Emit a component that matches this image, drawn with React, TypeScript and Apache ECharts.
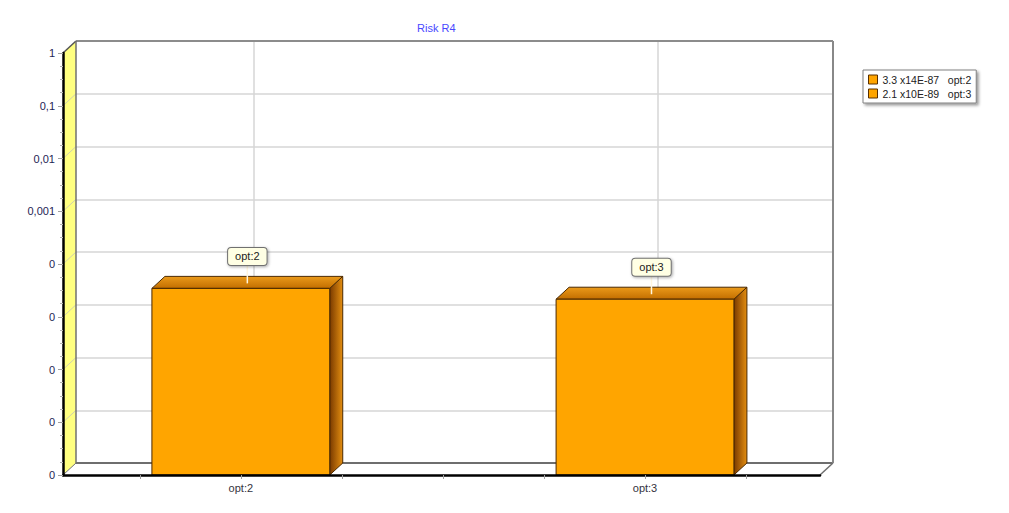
import React, { useEffect, useRef } from "react";
import * as echarts from "echarts";

// ---- data ----
const categories = ["opt:2", "opt:3"];
const values = [3.45e-5, 2.15e-5];
const legendNames = ["3.3 x14E-87   opt:2", "2.1 x10E-89   opt:3"];
const yExponents = [-8, -7, -6, -5, -4, -3, -2, -1, 0];
const yTickLabels = ["0", "0", "0", "0", "0", "0,001", "0,01", "0,1", "1"];
const xTickValues = [-0.25, 0, 0.25, 0.5, 0.75, 1, 1.25];
const categoryPositions = [0, 1];
const chartTitle = "Risk R4";

// ---- layout ----
const W = 1009;
const H = 513;
const FL = 63, FT = 53, FR = 820, FB = 475; // front plane
const DX = 13, DY = 12; // depth offset
const X_MIN = -0.44, X_MAX = 1.433;
const BAR_W = 0.44;
const FONT = '"Liberation Sans", Arial, sans-serif';

const Y_MIN = yExponents[0];
const Y_MAX = yExponents[yExponents.length - 1];

function yLabel(v: number): string {
  const i = yExponents.indexOf(Math.round(v));
  return i >= 0 ? yTickLabels[i] : "";
}

function xLabel(v: number): string {
  const i = categoryPositions.findIndex((p) => Math.abs(p - v) < 1e-6);
  return i >= 0 ? categories[i] : "";
}

export default function App() {
  const ref = useRef<HTMLDivElement>(null);
  useEffect(() => {
    document.body.style.margin = "0";
    const chart = echarts.init(ref.current!, null, { renderer: "svg" });

    const frameSeries: any = {
      type: "custom",
      coordinateSystem: "cartesian2d",
      xAxisIndex: 0,
      yAxisIndex: 0,
      z: 1,
      silent: true,
      data: [[0, 0]],
      renderItem: (params: any, api: any) => {
        const [x0, y0] = api.coord([X_MIN, Y_MIN]);
        const [x1, y1] = api.coord([X_MAX, Y_MAX]);
        const ch: any[] = [];
        ch.push({
          type: "polygon",
          shape: { points: [[x0, y1], [x0 + DX, y1 - DY], [x0 + DX, y0 - DY], [x0, y0]] },
          style: { fill: "#ffff80", stroke: "none" },
        });
        yExponents.forEach((e) => {
          if (e === Y_MIN || e === Y_MAX) return;
          const y = api.coord([X_MIN, e])[1];
          ch.push({
            type: "line",
            shape: { x1: x0, y1: y, x2: x0 + DX, y2: y - DY },
            style: { stroke: "#cfcfb0", lineWidth: 1 },
          });
        });
        ch.push({
          type: "polygon",
          shape: { points: [[x0, y0], [x0 + DX, y0 - DY], [x1 + DX, y0 - DY], [x1, y0]] },
          style: { fill: "#ffffff", stroke: "none" },
        });
        const lines: [number, number, number, number, string, number][] = [
          [x0 + DX, y0 - DY, x1 + DX, y0 - DY, "#6e6e6e", 2],
          [x1 + DX, y1 - DY, x1 + DX, y0 - DY, "#888888", 2],
          [x0 + DX, y1 - DY, x1 + DX, y1 - DY, "#8c8c8c", 2],
          [x1 + DX, y0 - DY, x1, y0, "#6e6e6e", 1.5],
          [x0, y1, x0 + DX, y1 - DY, "#555555", 1.5],
          [x0 + DX, y1 - DY, x0 + DX, y0 - DY, "#707070", 1.5],
          [x0, y0, x0 + DX, y0 - DY, "#707070", 1],
        ];
        lines.forEach(([a, b, c, d, s, w]) =>
          ch.push({ type: "line", shape: { x1: a, y1: b, x2: c, y2: d }, style: { stroke: s, lineWidth: w } })
        );
        return { type: "group", children: ch };
      },
    };

    const barSeries = categories.map((cat, i) => ({
      type: "custom",
      name: legendNames[i],
      coordinateSystem: "cartesian2d",
      xAxisIndex: 0,
      yAxisIndex: 0,
      z: 3,
      itemStyle: { color: "#ffa500", borderColor: "#5a3000", borderWidth: 1 },
      data: [[categoryPositions[i], Math.log10(values[i])]],
      renderItem: (params: any, api: any) => {
        const x = api.value(0);
        const e = api.value(1);
        const [cx, top] = api.coord([x, e]);
        const bottom = api.coord([x, Y_MIN])[1];
        const half = api.size([BAR_W, 0])[0] / 2;
        const l = cx - half;
        const r = cx + half;
        const stroke = "#4a2800";
        const tx = cx + DX / 2;
        return {
          type: "group",
          children: [
            {
              type: "polygon",
              shape: { points: [[r, top], [r + DX, top - DY], [r + DX, bottom - DY], [r, bottom]] },
              style: {
                fill: new echarts.graphic.LinearGradient(0, 0, 1, 0, [
                  { offset: 0, color: "#7a3a00" },
                  { offset: 1, color: "#e48e10" },
                ]),
                stroke,
                lineWidth: 1,
              },
            },
            {
              type: "polygon",
              shape: { points: [[l, top], [l + DX, top - DY], [r + DX, top - DY], [r, top]] },
              style: {
                fill: new echarts.graphic.LinearGradient(0, 0, 0, 1, [
                  { offset: 0, color: "#eb9a1a" },
                  { offset: 1, color: "#c26e00" },
                ]),
                stroke,
                lineWidth: 1,
              },
            },
            {
              type: "rect",
              shape: { x: l, y: top, width: r - l, height: bottom - top },
              style: { fill: "#ffa500", stroke, lineWidth: 1 },
            },
            {
              type: "line",
              shape: { x1: tx, y1: top - 23, x2: tx, y2: top - 5 },
              style: { stroke: "#fff6e0", lineWidth: 1.5 },
            },
            {
              type: "text",
              x: tx,
              y: top - 32,
              z2: 10,
              style: {
                text: cat,
                fill: "#222222",
                font: "11px " + FONT,
                align: "center",
                verticalAlign: "middle",
                backgroundColor: "#ffffe4",
                borderColor: "#707070",
                borderWidth: 1,
                borderRadius: 3,
                padding: [3, 7],
                shadowColor: "rgba(0,0,0,0.35)",
                shadowBlur: 3,
                shadowOffsetX: 1,
                shadowOffsetY: 1,
              },
            },
          ],
        };
      },
    }));

    const option: any = {
      animation: false,
      color: ["#ffa500"],
      textStyle: { fontFamily: FONT },
      title: {
        text: chartTitle,
        left: 417,
        top: 22,
        padding: 0,
        textStyle: { fontSize: 11, fontWeight: "normal", color: "#4848ff", fontFamily: FONT },
      },
      legend: {
        orient: "vertical",
        left: 863,
        top: 70,
        padding: [4, 5],
        itemGap: 3,
        itemWidth: 9,
        itemHeight: 9,
        icon: "rect",
        backgroundColor: "#ffffff",
        borderColor: "#808080",
        borderWidth: 1,
        shadowColor: "rgba(0,0,0,0.4)",
        shadowBlur: 3,
        shadowOffsetX: 2,
        shadowOffsetY: 2,
        selectedMode: false,
        itemStyle: { color: "#ffa500", borderColor: "#5a3000", borderWidth: 1 },
        textStyle: { fontSize: 10.5, color: "#222222", fontFamily: FONT },
        data: legendNames,
      },
      grid: [
        { left: FL, top: FT, width: FR - FL, height: FB - FT, containLabel: false },
        { left: FL + DX, top: FT - DY, width: FR - FL, height: FB - FT, containLabel: false },
      ],
      xAxis: [
        {
          type: "value",
          gridIndex: 0,
          min: X_MIN,
          max: X_MAX,
          z: 10,
          axisLine: { show: true, onZero: false, lineStyle: { color: "#000000", width: 2.5 } },
          axisTick: { show: true, length: 4, customValues: xTickValues, lineStyle: { color: "#a0a0a0" } },
          axisLabel: {
            margin: 7,
            fontSize: 11,
            color: "#333340",
            fontFamily: FONT,
            customValues: categoryPositions,
            formatter: xLabel,
          },
          splitLine: { show: false },
        },
        {
          type: "value",
          gridIndex: 1,
          min: X_MIN,
          max: X_MAX,
          axisLine: { show: false, onZero: false },
          axisTick: { show: false, customValues: categoryPositions },
          axisLabel: { show: false, customValues: categoryPositions },
          splitLine: { show: true, lineStyle: { color: "#d6d6d6", width: 1.5 } },
        },
      ],
      yAxis: [
        {
          type: "value",
          gridIndex: 0,
          min: Y_MIN,
          max: Y_MAX,
          interval: 1,
          z: 10,
          axisLine: { show: true, onZero: false, lineStyle: { color: "#000000", width: 2.5 } },
          axisTick: { show: true, length: 5, lineStyle: { color: "#a0a0a0" } },
          minorTick: { show: true, splitNumber: 4, length: 3, lineStyle: { color: "#b4b4b4" } },
          axisLabel: { margin: 8, fontSize: 11, color: "#1e1e55", fontFamily: FONT, formatter: yLabel },
          splitLine: { show: false },
        },
        {
          type: "value",
          gridIndex: 1,
          min: Y_MIN,
          max: Y_MAX,
          interval: 1,
          axisLine: { show: false, onZero: false },
          axisTick: { show: false },
          axisLabel: { show: false },
          splitLine: { show: true, showMinLine: false, showMaxLine: false, lineStyle: { color: "#d6d6d6", width: 1.5 } },
        },
      ],
      series: [frameSeries, ...barSeries],
    };

    chart.setOption(option);
    return () => chart.dispose();
  }, []);

  return <div ref={ref} style={{ width: W, height: H }} />;
}
